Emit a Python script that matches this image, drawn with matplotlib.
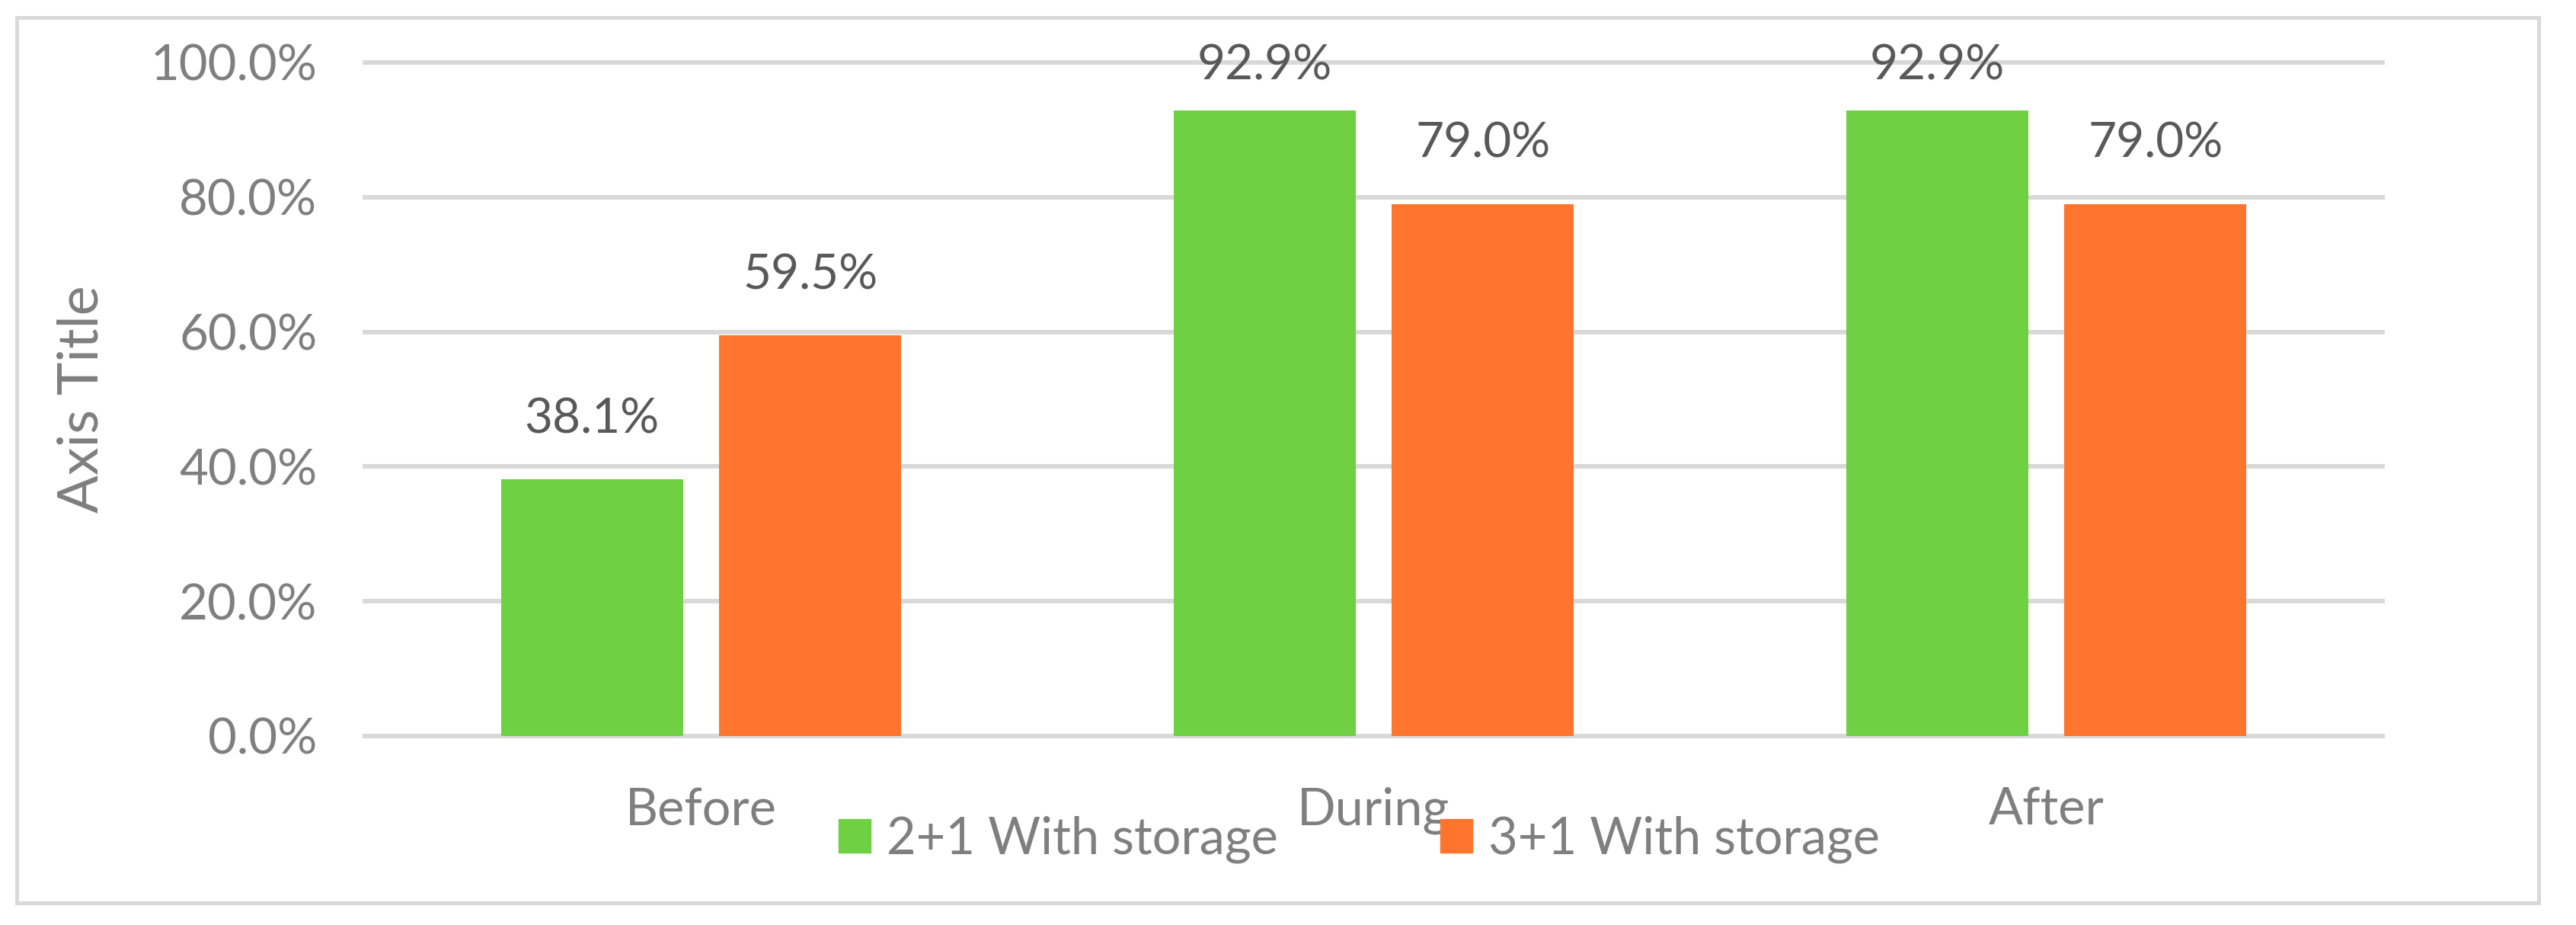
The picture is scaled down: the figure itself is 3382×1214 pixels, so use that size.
import numpy as np
import matplotlib.pyplot as plt
from matplotlib.patches import Patch, Rectangle

# data
categories = ['Before', 'During', 'After']
series_names = ['2+1 With storage', '3+1 With storage']
with_21 = [0.381, 0.929, 0.929]
with_31 = [0.595, 0.790, 0.790]
yticks = [0.0, 0.2, 0.4, 0.6, 0.8, 1.0]

green = '#70D044'
orange = '#FF752D'
grid_col = '#D9D9D9'
tick_col = '#7F7F7F'
label_col = '#595959'

plt.rcParams['font.family'] = ['Lato', 'DejaVu Sans']

fig = plt.figure(figsize=(33.82, 12.14), dpi=100)
ax = fig.add_axes([0.1416, 0.2043, 0.7833, 0.7282])

x = np.arange(len(categories))
w = 0.2707
off = 0.1622
b1 = ax.bar(x - off, with_21, w, color=green, zorder=3)
b2 = ax.bar(x + off, with_31, w, color=orange, zorder=3)

ax.set_xlim(-0.5, 2.5)
ax.set_ylim(0, 1.0)
ax.set_yticks(yticks)
ax.set_yticklabels(['%.1f%%' % (t * 100) for t in yticks])
ax.set_xticks(x)
ax.set_xticklabels(categories)
ax.tick_params(axis='y', length=0, pad=45, labelsize=47, labelcolor=tick_col)
ax.tick_params(axis='x', length=0, pad=48, labelsize=48, labelcolor=tick_col)
for s in ax.spines.values():
    s.set_visible(False)
ax.yaxis.grid(True, color=grid_col, linewidth=4.3)
for gl in ax.get_ygridlines():
    gl.set_clip_on(False)
ax.set_axisbelow(True)
ax.set_ylabel('Axis Title', fontsize=53, color=tick_col, labelpad=40)

# value labels, pushed down near the top like excel does
for xs, vals in [(x - off, with_21), (x + off, with_31)]:
    for xi, v in zip(xs, vals):
        ly = min(v + 0.089, 0.995)
        ax.text(xi, ly, '%.1f%%' % (v * 100), ha='center', va='center',
                fontsize=46, color=label_col)

handles = [Patch(color=green), Patch(color=orange)]
fig.legend(handles, series_names, loc='center', bbox_to_anchor=(0.5277, 0.0923),
           ncol=2, frameon=False, fontsize=48, labelcolor=tick_col,
           handlelength=0.63, handleheight=0.63, handletextpad=0.31,
           columnspacing=3.2)

# chart border
fig.patches.append(Rectangle((22 / 3382, 29 / 1214), 3311 / 3382, 1162 / 1214,
                             transform=fig.transFigure, fill=False,
                             edgecolor=grid_col, linewidth=3.6))

fig.savefig('out.png', dpi=100)
